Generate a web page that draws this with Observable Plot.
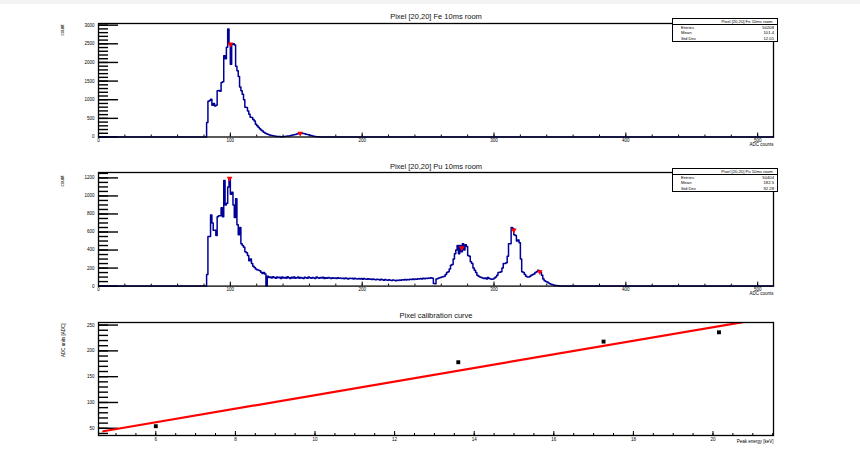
<!DOCTYPE html>
<html>
<head>
<meta charset="utf-8">
<script src="https://cdn.jsdelivr.net/npm/d3@7"></script>
<script src="https://cdn.jsdelivr.net/npm/@observablehq/plot@0.6"></script>
<style>
  html, body { margin: 0; padding: 0; background: #fff; }
  body { width: 860px; height: 451px; overflow: hidden; font-family: "Liberation Sans", Arial, sans-serif; }
  #page { position: relative; width: 860px; height: 451px; }
  #band { position: absolute; left: 0; top: 0; width: 860px; height: 4px; background: #f3f3f3; }
  .panel { position: absolute; left: 0; }
  .panel svg { display: block; overflow: visible; }
  .stats { position: absolute; background: #fff; border: 1px solid #000; border-right-width: 1.5px; border-bottom-width: 1.5px;
           font-family: "Liberation Sans", Arial, sans-serif; font-size: 4.2px; color: #000; box-sizing: border-box; }
  .stats .hd { height: 5px; line-height: 5px; border-bottom: 1px solid #000; text-align: center; padding-left: 44px; white-space: nowrap; overflow: hidden; }
  .stats .row { display: flex; justify-content: space-between; height: 5.4px; line-height: 5.4px; padding: 0 3px 0 8px; }
</style>
</head>
<body>
<div id="page">
  <div id="band"></div>
</div>
<script>
// ---------------- data ----------------
// ADC axis range of both spectra (1 ADC count per bin)
const adcRange = [0, 512];
const adcTicks = [0, 100, 200, 300, 400, 500];

// Fe-55 spectrum, bin contents starting at ADC bin 82
const feFirstBin = 82;
const feCounts = [
  390, 960, 980, 1010, 850, 900, 830, 850, 1240, 1250,      // 82-91
  1230, 1460, 1480, 2180, 2100, 2410, 2900, 2500, 1950, 2480, // 92-101
  2500, 2470, 1900, 1780, 1620, 1340, 1240, 1150, 1000, 800,  // 102-111
  790, 700, 610, 530, 520, 470, 430, 340, 300, 260,           // 112-121
  220, 190, 160, 130, 110, 90, 75, 60, 50, 40,                // 122-131
  32, 25, 20, 16, 13, 11, 10, 10, 11, 14,                     // 132-141
  20, 24, 30, 36, 44, 52, 60, 70, 80, 90,                     // 142-151
  100, 108, 102, 95, 86, 76, 68, 58, 48, 38,                  // 152-161
  30, 22, 15, 10, 7, 5, 3, 2, 1                               // 162-170
];
const fePeakAdc = [100.2, 153];
const fePeakCounts = [2490, 100];
const feYTicks = [0, 500, 1000, 1500, 2000, 2500, 3000];
const feYMax = 3045;
const feStats = [["Entries", "50208"], ["Mean", "101.4"], ["Std Dev", "12.01"]];

// Pu-238 spectrum, bin contents starting at ADC bin 82
const puFirstBin = 82;
const puCounts = [
  130, 550, 550, 790, 700, 620, 620, 560, 770, 780,           // 82-91
  780, 870, 770, 1170, 900, 920, 1100, 1200, 1020, 1040,      // 92-101
  900, 760, 970, 680, 570, 650, 470, 450, 430, 380,           // 102-111
  370, 340, 280, 300, 250, 220, 205, 190, 180, 175,           // 112-121
  170, 155, 140, 150, 135, 5, 110, 95, 100, 90,               // 122-131
  105, 95, 88, 100, 92, 98, 85, 102, 90, 96,                  // 132-141
  88, 104, 92, 85, 98, 90, 100, 86, 94, 102,                  // 142-151
  88, 95, 90, 84, 99, 92, 87, 101, 93, 88,                    // 152-161
  96, 90, 85, 100, 92, 86, 95, 89, 98, 84,                    // 162-171
  92, 88, 96, 90, 83, 94, 87, 91, 85, 92,                     // 172-181
  86, 90, 84, 88, 82, 91, 85, 80, 88, 83,                     // 182-191
  87, 79, 86, 82, 78, 85, 80, 84, 77, 83,                     // 192-201
  79, 75, 82, 76, 80, 73, 78, 74, 70, 77,                     // 202-211
  72, 68, 75, 70, 66, 72, 68, 64, 70, 66,                     // 212-221
  62, 68, 64, 60, 66, 63, 68, 65, 70, 67,                     // 222-231
  72, 68, 74, 70, 76, 72, 78, 74, 80, 76,                     // 232-241
  82, 78, 84, 80, 86, 82, 88, 84, 90, 86,                     // 242-251
  92, 88, 30, 25, 80, 85, 90, 95, 100, 105,                   // 252-261
  110, 130, 150, 160, 190, 230, 240, 300, 360, 400,           // 262-271
  450, 360, 450, 380, 470, 400, 460, 440, 340, 330,           // 272-281
  270, 250, 200, 175, 150, 120, 110, 100, 95, 90,             // 282-291
  85, 90, 80, 95, 85, 80, 75, 80, 90, 100,                    // 292-301
  120, 150, 155, 160, 200, 250, 250, 260, 330, 470,           // 302-311
  470, 650, 640, 570, 560, 500, 510, 480, 300, 160,           // 312-321
  150, 130, 110, 100, 100, 110, 120, 130, 135, 150,           // 322-331
  160, 175, 170, 155, 120, 80, 60, 50, 45, 35,                // 332-341
  25, 20, 15, 12, 8, 6, 4, 3, 2, 1                            // 342-351
];
const puPeakAdc = [99.4, 275.5, 315, 334.7];
const puPeakCounts = [1195, 425, 620, 158];
const puYTicks = [0, 200, 400, 600, 800, 1000, 1200];
const puYMax = 1260;
const puStats = [["Entries", "50404"], ["Mean", "182.5"], ["Std Dev", "92.28"]];

// calibration points: peak energy (keV) vs fitted ADC position
const calEnergy = [6.0, 13.6, 17.25, 20.15];
const calAdc = [54, 178, 218, 236];
// linear fit ADC = slope * E + intercept
const fitSlope = 13.16;
const fitIntercept = -17.4;
const fitRange = [4.68, 21.5];
const calXDomain = [4.56, 21.52];
const calYDomain = [36, 255];
const calXTicks = [6, 8, 10, 12, 14, 16, 18, 20];
const calYTicks = [50, 100, 150, 200, 250];

// ---------------- drawing ----------------
const W = 860, mL = 98, mR = 87, FW = W - mL - mR;
const FONT = "Liberation Sans, Arial, sans-serif";
const NAVY = "#000099";
const page = document.getElementById("page");

function binTable(first, counts) {
  const rows = [];
  for (let b = adcRange[0]; b < adcRange[1]; b++) {
    const i = b - first;
    rows.push({adc: b, n: i >= 0 && i < counts.length ? counts[i] : 0});
  }
  rows.push({adc: adcRange[1], n: 0});
  return rows;
}

// ROOT-like frame axes: long inward ticks on y, short inward ticks on x
function frameAxes({fh, xMajor, xMinor, yMajor, yMinor}) {
  const tick = {stroke: "#000", strokeWidth: 1.4};
  return [
    Plot.tickY(yMinor, {y: d => d, ...tick, insetRight: FW - 10}),
    Plot.tickY(yMajor, {y: d => d, ...tick, insetRight: FW - 20}),
    Plot.tickX(xMinor, {x: d => d, ...tick, strokeWidth: 1, insetTop: fh - 2}),
    Plot.tickX(xMajor, {x: d => d, ...tick, strokeWidth: 1, insetTop: fh - 4}),
    Plot.axisY({ticks: yMajor, label: null, tickSize: 0, tickPadding: 4, fontSize: 4.5, tickFormat: d => String(d), fill: "#000"}),
    Plot.axisX({ticks: xMajor, label: null, tickSize: 0, tickPadding: 2, fontSize: 4.5, tickFormat: d => String(d), fill: "#000"})
  ];
}

function addPanel(svg, top) {
  const div = document.createElement("div");
  div.className = "panel";
  div.style.top = top + "px";
  div.appendChild(svg);
  page.appendChild(div);
}

function addStats(left, top, width, title, rows) {
  const box = document.createElement("div");
  box.className = "stats";
  box.style.left = left + "px";
  box.style.top = top + "px";
  box.style.width = width + "px";
  const hd = document.createElement("div");
  hd.className = "hd";
  hd.textContent = title;
  box.appendChild(hd);
  for (const [k, v] of rows) {
    const r = document.createElement("div");
    r.className = "row";
    const a = document.createElement("span"); a.textContent = k;
    const b = document.createElement("span"); b.textContent = v;
    r.append(a, b);
    box.appendChild(r);
  }
  page.appendChild(box);
}

function histogramPanel({title, first, counts, peakAdc, peakCounts, yTicks, yMax, yMinorStep, mt, mb, top, titleDy, yTitleDy}) {
  const H = 150, fh = H - mt - mb;
  const peaks = peakAdc.map((a, i) => ({adc: a, n: peakCounts[i]}));
  const svg = Plot.plot({
    width: W, height: H,
    marginLeft: mL, marginRight: mR, marginTop: mt, marginBottom: mb,
    style: {fontFamily: FONT, background: "transparent", overflow: "visible"},
    x: {domain: adcRange, axis: null},
    y: {domain: [0, yMax], axis: null},
    marks: [
      ...frameAxes({
        fh,
        xMajor: adcTicks,
        xMinor: d3.range(adcRange[0], adcRange[1], 20),
        yMajor: yTicks,
        yMinor: d3.range(0, yMax, yMinorStep)
      }),
      Plot.lineY(binTable(first, counts), {x: "adc", y: "n", curve: "step-after", stroke: NAVY, strokeWidth: 1.5}),
      Plot.dot(peaks, {x: "adc", y: "n", symbol: "triangle", rotate: 180, r: 2.1, fill: "#ff0000", stroke: "none"}),
      Plot.frame({stroke: "#000", strokeWidth: 1.3}),
      Plot.text([title], {text: d => d, frameAnchor: "top", lineAnchor: "bottom", dy: titleDy, fontSize: 7.5, fill: "#111"}),
      Plot.text(["count"], {text: d => d, frameAnchor: "top-left", rotate: -90, textAnchor: "end", dx: -38, dy: yTitleDy, fontSize: 4.5, fill: "#000"}),
      Plot.text(["ADC counts"], {text: d => d, frameAnchor: "bottom-right", textAnchor: "end", lineAnchor: "top", dy: 6, fontSize: 4.5, fill: "#000"})
    ]
  });
  addPanel(svg, top);
}

histogramPanel({
  title: "Pixel [20,20] Fe 10ms room", first: feFirstBin, counts: feCounts,
  peakAdc: fePeakAdc, peakCounts: fePeakCounts, yTicks: feYTicks, yMax: feYMax, yMinorStep: 100,
  mt: 23, mb: 13.5, top: 0, titleDy: -5, yTitleDy: 1
});
histogramPanel({
  title: "Pixel [20,20] Pu 10ms room", first: puFirstBin, counts: puCounts,
  peakAdc: puPeakAdc, peakCounts: puPeakCounts, yTicks: puYTicks, yMax: puYMax, yMinorStep: 50,
  mt: 22, mb: 14.4, top: 150, titleDy: -4, yTitleDy: 3
});

// calibration curve
{
  const H = 151, mt = 22, mb = 16, fh = H - mt - mb;
  const points = calEnergy.map((e, i) => ({e, adc: calAdc[i]}));
  const fit = fitRange.map(e => ({e, adc: fitSlope * e + fitIntercept}));
  const svg = Plot.plot({
    width: W, height: H,
    marginLeft: mL, marginRight: mR, marginTop: mt, marginBottom: mb,
    style: {fontFamily: FONT, background: "transparent", overflow: "visible"},
    x: {domain: calXDomain, axis: null},
    y: {domain: calYDomain, axis: null},
    marks: [
      ...frameAxes({
        fh,
        xMajor: calXTicks,
        xMinor: d3.range(5, 21.51, 0.5),
        yMajor: calYTicks,
        yMinor: d3.range(40, 255, 10)
      }),
      Plot.line(fit, {x: "e", y: "adc", stroke: "#ff0000", strokeWidth: 2.2, clip: true}),
      Plot.dot(points, {x: "e", y: "adc", symbol: "square", r: 2.2, fill: "#000", stroke: "none"}),
      Plot.frame({stroke: "#000", strokeWidth: 1.3}),
      Plot.text(["Pixel calibration curve"], {text: d => d, frameAnchor: "top", lineAnchor: "bottom", dy: -5, fontSize: 7.5, fill: "#111"}),
      Plot.text(["ADC units [ADC]"], {text: d => d, frameAnchor: "top-left", rotate: -90, textAnchor: "end", dx: -37, dy: 1, fontSize: 4.5, fill: "#000"}),
      Plot.text(["Peak energy [keV]"], {text: d => d, frameAnchor: "bottom-right", textAnchor: "end", lineAnchor: "top", dy: 4, fontSize: 4.5, fill: "#000"})
    ]
  });
  addPanel(svg, 300);
}

// statistics boxes drawn over the frames' top-right corners
addStats(672, 18, 106, "Pixel [20,20] Fe 10ms room", feStats);
addStats(672, 168, 106, "Pixel [20,20] Pu 10ms room", puStats);
</script>
</body>
</html>
